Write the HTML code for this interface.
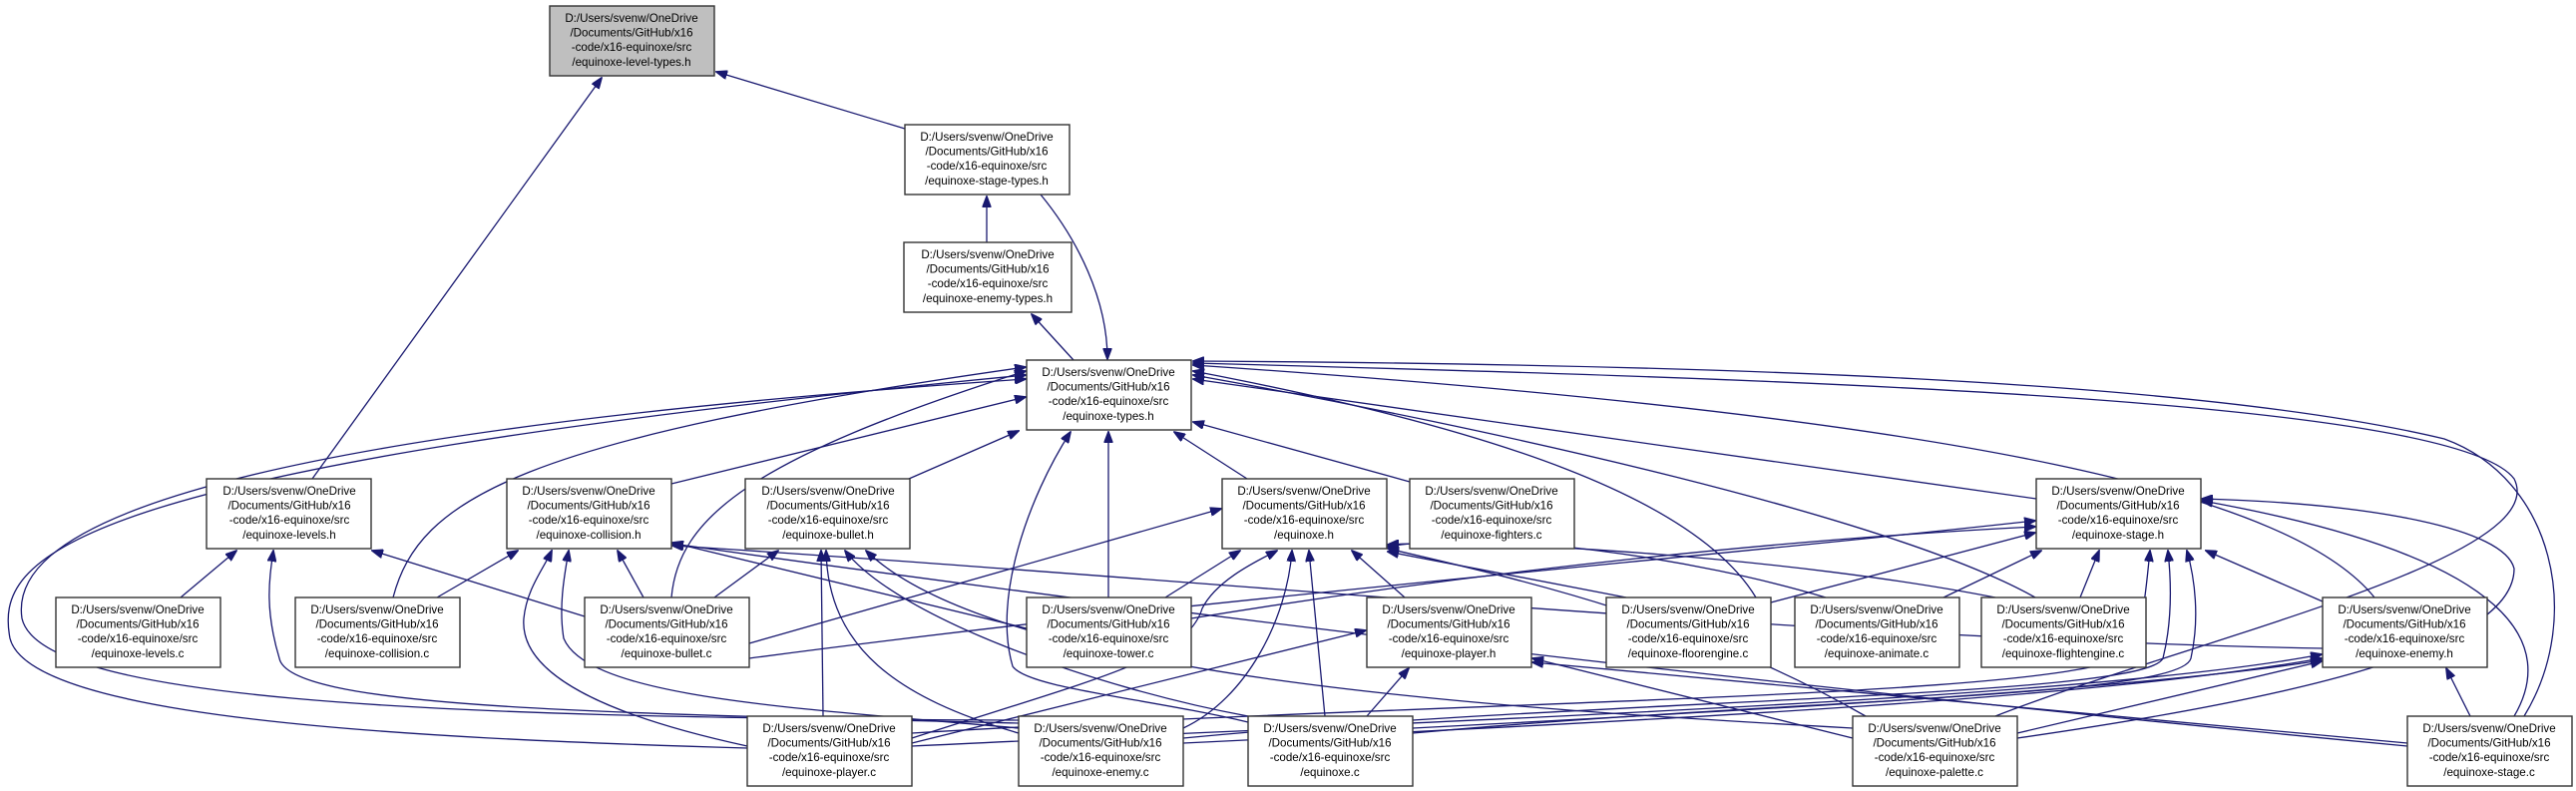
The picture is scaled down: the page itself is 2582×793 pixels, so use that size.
<!DOCTYPE html>
<html><head><meta charset="utf-8"><style>
html,body{margin:0;padding:0;background:#fff;}
svg{display:block;}
text{font-family:"Liberation Sans",Arial,sans-serif;font-size:11.6px;fill:#000;text-anchor:middle;}
.b{fill:#fff;stroke:#333;stroke-width:1.4;}
.e{fill:none;stroke:#191970;stroke-width:1.3;marker-end:url(#ah);}
</style></head><body>
<svg width="2582" height="793" viewBox="0 0 2582 793" xmlns="http://www.w3.org/2000/svg">
<defs><marker id="ah" markerWidth="12" markerHeight="9" refX="11" refY="4.5" orient="auto" markerUnits="userSpaceOnUse"><path d="M0,0 L12,4.5 L0,9 z" fill="#191970" stroke="#191970"/></marker></defs>
<g>
<path class="e" d="M313 480 L603 78"/>
<path class="e" d="M907 129 L718 72"/>
<path class="e" d="M989 243 L989 197"/>
<path class="e" d="M1043 195 C1080 240,1110 300,1110 360"/>
<path class="e" d="M1076 361 L1034 315"/>
<path class="e" d="M673 485 L1028 398"/>
<path class="e" d="M911 480 L1021 432"/>
<path class="e" d="M1250 480 L1177 433"/>
<path class="e" d="M1413 483 L1196 423"/>
<path class="e" d="M1111 599 L1111 433"/>
<path class="e" d="M1251 724 C1150 700,1030 690,1015 668 C995 600,1030 500,1073 433"/>
<path class="e" d="M673 599 C680 520,750 460,1028 372"/>
<path class="e" d="M394 599 C420 500,520 440,1028 368"/>
<path class="e" d="M749 750 C400 740,30 720,10 640 C-5 560,50 470,1028 376"/>
<path class="e" d="M1021 722 C400 720,40 700,22 620 C10 540,150 440,1028 380"/>
<path class="e" d="M2041 500 L1196 380"/>
<path class="e" d="M1760 599 C1700 500,1500 430,1196 372"/>
<path class="e" d="M2040 599 C1900 520,1500 430,1196 376"/>
<path class="e" d="M2380 599 C2300 500,2000 420,1196 366"/>
<path class="e" d="M2000 718 C2200 640,2560 560,2520 480 C2460 400,1800 380,1196 364"/>
<path class="e" d="M2530 718 C2590 620,2560 480,2450 440 C2200 380,1700 365,1196 362"/>
<path class="e" d="M181 599 L237 552"/>
<path class="e" d="M586 618 L373 552"/>
<path class="e" d="M1021 725 C600 715,290 710,280 660 C265 610,270 580,274 552"/>
<path class="e" d="M438 599 L519 552"/>
<path class="e" d="M645 599 L619 552"/>
<path class="e" d="M749 748 C620 720,520 680,525 620 C528 590,545 570,553 552"/>
<path class="e" d="M1021 730 C800 710,590 700,565 640 C560 610,565 580,570 552"/>
<path class="e" d="M1029 630 L674 544"/>
<path class="e" d="M2328 650 C1800 640,1200 580,674 547"/>
<path class="e" d="M2413 748 C1800 690,1200 620,674 545"/>
<path class="e" d="M716 599 L780 552"/>
<path class="e" d="M825 718 L823 552"/>
<path class="e" d="M1021 735 C900 700,830 650,828 552"/>
<path class="e" d="M1251 718 C1100 690,900 620,847 552"/>
<path class="e" d="M1857 730 C1500 710,1000 680,868 552"/>
<path class="e" d="M751 645 L1224 510"/>
<path class="e" d="M1168 599 L1243 552"/>
<path class="e" d="M1408 599 L1355 552"/>
<path class="e" d="M914 740 C1100 680,1190 660,1205 610 C1220 580,1265 560,1280 552"/>
<path class="e" d="M1186 730 C1250 700,1290 620,1295 552"/>
<path class="e" d="M1328 718 L1312 552"/>
<path class="e" d="M1630 599 L1391 553"/>
<path class="e" d="M1830 599 C1700 560,1500 530,1391 548"/>
<path class="e" d="M2000 599 C1800 560,1500 540,1391 546"/>
<path class="e" d="M1870 718 C1700 620,1520 580,1391 550"/>
<path class="e" d="M914 745 L1369 632"/>
<path class="e" d="M1370 718 L1412 670"/>
<path class="e" d="M1857 740 L1536 660"/>
<path class="e" d="M2413 745 L1536 664"/>
<path class="e" d="M751 660 C1200 600,1700 560,2040 522"/>
<path class="e" d="M1194 620 C1500 570,1800 540,2040 528"/>
<path class="e" d="M1775 604 L2040 534"/>
<path class="e" d="M1948 599 L2046 552"/>
<path class="e" d="M2085 599 L2104 552"/>
<path class="e" d="M2328 603 L2211 552"/>
<path class="e" d="M914 735 C1500 700,2120 700,2140 650 C2150 610,2152 580,2155 552"/>
<path class="e" d="M1186 740 C1600 700,2150 700,2168 660 C2178 620,2176 580,2173 552"/>
<path class="e" d="M1416 735 C1800 700,2185 700,2196 660 C2205 620,2200 580,2192 552"/>
<path class="e" d="M2022 740 C2300 700,2520 650,2520 570 C2510 530,2380 505,2207 500"/>
<path class="e" d="M2520 718 C2560 650,2530 560,2207 502"/>
<path class="e" d="M914 748 C1500 720,2100 700,2327 656"/>
<path class="e" d="M1186 745 C1700 720,2100 700,2327 660"/>
<path class="e" d="M1416 730 C1800 710,2150 690,2327 662"/>
<path class="e" d="M2022 735 L2327 663"/>
<path class="e" d="M2476 718 L2452 670"/>
</g>
<g>
<rect x="551" y="6" width="165" height="70" style="fill:#bfbfbf;stroke:#333;stroke-width:1.4"/>
<text x="633" y="22">D:/Users/svenw/OneDrive</text><text x="633" y="36.5">/Documents/GitHub/x16</text><text x="633" y="51">-code/x16-equinoxe/src</text><text x="633" y="66">/equinoxe-level-types.h</text>

<rect class="b" x="907" y="125" width="165" height="70"/>
<text x="989" y="141">D:/Users/svenw/OneDrive</text><text x="989" y="155.5">/Documents/GitHub/x16</text><text x="989" y="170">-code/x16-equinoxe/src</text><text x="989" y="185">/equinoxe-stage-types.h</text>

<rect class="b" x="906" y="243" width="168" height="70"/>
<text x="990" y="259">D:/Users/svenw/OneDrive</text><text x="990" y="273.5">/Documents/GitHub/x16</text><text x="990" y="288">-code/x16-equinoxe/src</text><text x="990" y="303">/equinoxe-enemy-types.h</text>

<rect class="b" x="1029" y="361" width="165" height="70"/>
<text x="1111" y="377">D:/Users/svenw/OneDrive</text><text x="1111" y="391.5">/Documents/GitHub/x16</text><text x="1111" y="406">-code/x16-equinoxe/src</text><text x="1111" y="421">/equinoxe-types.h</text>

<rect class="b" x="207" y="480" width="165" height="70"/>
<text x="290" y="496">D:/Users/svenw/OneDrive</text><text x="290" y="510.5">/Documents/GitHub/x16</text><text x="290" y="525">-code/x16-equinoxe/src</text><text x="290" y="540">/equinoxe-levels.h</text>

<rect class="b" x="508" y="480" width="165" height="70"/>
<text x="590" y="496">D:/Users/svenw/OneDrive</text><text x="590" y="510.5">/Documents/GitHub/x16</text><text x="590" y="525">-code/x16-equinoxe/src</text><text x="590" y="540">/equinoxe-collision.h</text>

<rect class="b" x="747" y="480" width="165" height="70"/>
<text x="830" y="496">D:/Users/svenw/OneDrive</text><text x="830" y="510.5">/Documents/GitHub/x16</text><text x="830" y="525">-code/x16-equinoxe/src</text><text x="830" y="540">/equinoxe-bullet.h</text>

<rect class="b" x="1225" y="480" width="165" height="70"/>
<text x="1307" y="496">D:/Users/svenw/OneDrive</text><text x="1307" y="510.5">/Documents/GitHub/x16</text><text x="1307" y="525">-code/x16-equinoxe/src</text><text x="1307" y="540">/equinoxe.h</text>

<rect class="b" x="1413" y="480" width="165" height="70"/>
<text x="1495" y="496">D:/Users/svenw/OneDrive</text><text x="1495" y="510.5">/Documents/GitHub/x16</text><text x="1495" y="525">-code/x16-equinoxe/src</text><text x="1495" y="540">/equinoxe-fighters.c</text>

<rect class="b" x="2041" y="480" width="165" height="70"/>
<text x="2123" y="496">D:/Users/svenw/OneDrive</text><text x="2123" y="510.5">/Documents/GitHub/x16</text><text x="2123" y="525">-code/x16-equinoxe/src</text><text x="2123" y="540">/equinoxe-stage.h</text>

<rect class="b" x="56" y="599" width="165" height="70"/>
<text x="138" y="615">D:/Users/svenw/OneDrive</text><text x="138" y="629.5">/Documents/GitHub/x16</text><text x="138" y="644">-code/x16-equinoxe/src</text><text x="138" y="659">/equinoxe-levels.c</text>

<rect class="b" x="296" y="599" width="165" height="70"/>
<text x="378" y="615">D:/Users/svenw/OneDrive</text><text x="378" y="629.5">/Documents/GitHub/x16</text><text x="378" y="644">-code/x16-equinoxe/src</text><text x="378" y="659">/equinoxe-collision.c</text>

<rect class="b" x="586" y="599" width="165" height="70"/>
<text x="668" y="615">D:/Users/svenw/OneDrive</text><text x="668" y="629.5">/Documents/GitHub/x16</text><text x="668" y="644">-code/x16-equinoxe/src</text><text x="668" y="659">/equinoxe-bullet.c</text>

<rect class="b" x="1029" y="599" width="165" height="70"/>
<text x="1111" y="615">D:/Users/svenw/OneDrive</text><text x="1111" y="629.5">/Documents/GitHub/x16</text><text x="1111" y="644">-code/x16-equinoxe/src</text><text x="1111" y="659">/equinoxe-tower.c</text>

<rect class="b" x="1370" y="599" width="165" height="70"/>
<text x="1452" y="615">D:/Users/svenw/OneDrive</text><text x="1452" y="629.5">/Documents/GitHub/x16</text><text x="1452" y="644">-code/x16-equinoxe/src</text><text x="1452" y="659">/equinoxe-player.h</text>

<rect class="b" x="1610" y="599" width="165" height="70"/>
<text x="1692" y="615">D:/Users/svenw/OneDrive</text><text x="1692" y="629.5">/Documents/GitHub/x16</text><text x="1692" y="644">-code/x16-equinoxe/src</text><text x="1692" y="659">/equinoxe-floorengine.c</text>

<rect class="b" x="1799" y="599" width="165" height="70"/>
<text x="1881" y="615">D:/Users/svenw/OneDrive</text><text x="1881" y="629.5">/Documents/GitHub/x16</text><text x="1881" y="644">-code/x16-equinoxe/src</text><text x="1881" y="659">/equinoxe-animate.c</text>

<rect class="b" x="1986" y="599" width="165" height="70"/>
<text x="2068" y="615">D:/Users/svenw/OneDrive</text><text x="2068" y="629.5">/Documents/GitHub/x16</text><text x="2068" y="644">-code/x16-equinoxe/src</text><text x="2068" y="659">/equinoxe-flightengine.c</text>

<rect class="b" x="2328" y="599" width="165" height="70"/>
<text x="2410" y="615">D:/Users/svenw/OneDrive</text><text x="2410" y="629.5">/Documents/GitHub/x16</text><text x="2410" y="644">-code/x16-equinoxe/src</text><text x="2410" y="659">/equinoxe-enemy.h</text>

<rect class="b" x="749" y="718" width="165" height="70"/>
<text x="831" y="734">D:/Users/svenw/OneDrive</text><text x="831" y="748.5">/Documents/GitHub/x16</text><text x="831" y="763">-code/x16-equinoxe/src</text><text x="831" y="778">/equinoxe-player.c</text>

<rect class="b" x="1021" y="718" width="165" height="70"/>
<text x="1103" y="734">D:/Users/svenw/OneDrive</text><text x="1103" y="748.5">/Documents/GitHub/x16</text><text x="1103" y="763">-code/x16-equinoxe/src</text><text x="1103" y="778">/equinoxe-enemy.c</text>

<rect class="b" x="1251" y="718" width="165" height="70"/>
<text x="1333" y="734">D:/Users/svenw/OneDrive</text><text x="1333" y="748.5">/Documents/GitHub/x16</text><text x="1333" y="763">-code/x16-equinoxe/src</text><text x="1333" y="778">/equinoxe.c</text>

<rect class="b" x="1857" y="718" width="165" height="70"/>
<text x="1939" y="734">D:/Users/svenw/OneDrive</text><text x="1939" y="748.5">/Documents/GitHub/x16</text><text x="1939" y="763">-code/x16-equinoxe/src</text><text x="1939" y="778">/equinoxe-palette.c</text>

<rect class="b" x="2413" y="718" width="165" height="70"/>
<text x="2495" y="734">D:/Users/svenw/OneDrive</text><text x="2495" y="748.5">/Documents/GitHub/x16</text><text x="2495" y="763">-code/x16-equinoxe/src</text><text x="2495" y="778">/equinoxe-stage.c</text>
</g>
</svg>
</body></html>
